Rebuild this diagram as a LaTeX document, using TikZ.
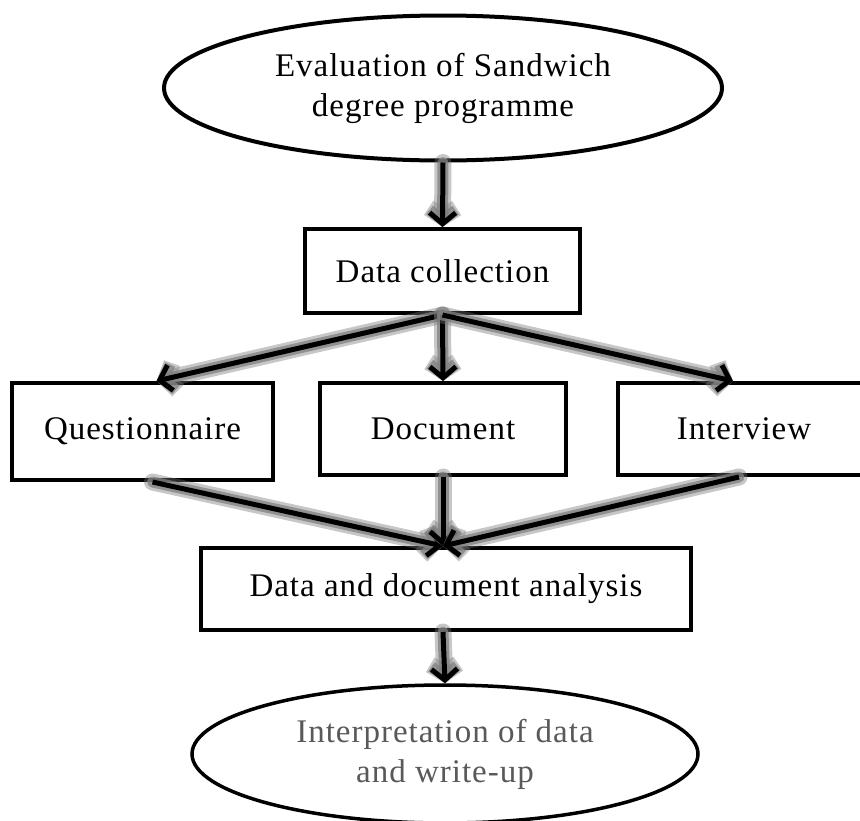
\documentclass[tikz,border=0pt]{standalone}
\usepackage{fontspec}
\setmainfont{Liberation Serif}[LetterSpace=3]
\usetikzlibrary{arrows.meta,shapes.geometric,calc}
\begin{document}
\begin{tikzpicture}[x=1pt,y=-1pt,
  every node/.style={font=\fontsize{33}{40}\selectfont, inner sep=0pt, align=center},
  boxnode/.style={draw, line width=4pt, rectangle},
  ovalnode/.style={draw, line width=4pt, ellipse},
  arr/.style={draw=black, line width=5pt, -{Straight Barb[length=11pt,width=26pt]}},
  glowwide/.style={draw=black!55, line width=17pt, opacity=0.4, line cap=round,
    -{Straight Barb[length=9pt,width=28pt]}},
  glownarrow/.style={draw=black!50, line width=11pt, opacity=0.75, line cap=round,
    -{Straight Barb[length=10pt,width=26pt]}}
]
\useasboundingbox (0,0) rectangle (860,820);

\node[ovalnode, minimum width=558pt, minimum height=145pt] (eval) at (443,88)
  {Evaluation of Sandwich\\degree programme};
\node[boxnode, minimum width=275pt, minimum height=84pt] (dc) at (442.5,271) {Data collection};
\node[boxnode, minimum width=261pt, minimum height=97pt] (q) at (142.5,431.5) {Questionnaire};
\node[boxnode, minimum width=246pt, minimum height=92pt] (doc) at (443,429) {Document};
\node[boxnode, minimum width=252pt, minimum height=92pt, text width=252pt] (int) at (744,429) {Interview};
\node[boxnode, minimum width=490pt, minimum height=82pt] (ana) at (446,589) {Data and document analysis};
\node[ovalnode, line width=3.5pt, minimum width=506pt, minimum height=138pt, text=black!65] (interp) at (445,754)
  {Interpretation of data\\and write-up};

\newcommand\flowarrow[2]{%
  \draw[glowwide] #1 -- #2;
  \draw[glownarrow] #1 -- #2;
  \draw[arr] #1 -- #2;}

\flowarrow{(eval.south)}{(dc.north)}
\flowarrow{(dc.south)}{($(q.north)+(14,0)$)}
\flowarrow{(dc.south)}{(doc.north)}
\flowarrow{(dc.south)}{($(int.north)+(-11,0)$)}
\flowarrow{($(q.south)+(10,0)$)}{($(ana.north)+(-3,0)$)}
\flowarrow{(doc.south)}{($(ana.north)+(-3,0)$)}
\flowarrow{($(int.south)+(-5,0)$)}{($(ana.north)+(-3,0)$)}
\flowarrow{($(ana.south)+(-3,0)$)}{(interp.north)}
\end{tikzpicture}
\end{document}
